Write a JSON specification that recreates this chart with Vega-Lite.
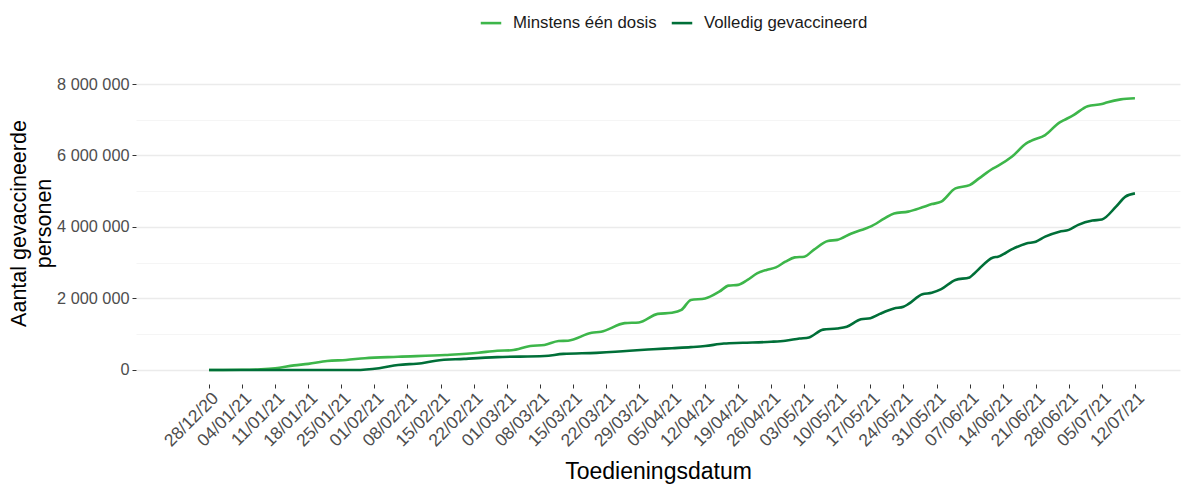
{
  "$schema": "https://vega.github.io/schema/vega-lite/v6.json",
  "width": 1044,
  "height": 304,
  "autosize": {"type": "none"},
  "padding": {"left": 136, "top": 80, "right": 4, "bottom": 101},
  "background": "white",
  "config": {
    "font": "Liberation Sans",
    "view": {"stroke": null},
    "locale": {"number": {"decimal": ",", "thousands": " ", "grouping": [3], "currency": ["€", ""]}}
  },
  "data": {
    "values": [
      {"datum": "2020-12-28", "reeks": "Minstens één dosis", "aantal": 0},
      {"datum": "2021-01-04", "reeks": "Minstens één dosis", "aantal": 5000},
      {"datum": "2021-01-08", "reeks": "Minstens één dosis", "aantal": 20000},
      {"datum": "2021-01-11", "reeks": "Minstens één dosis", "aantal": 50000},
      {"datum": "2021-01-15", "reeks": "Minstens één dosis", "aantal": 130000},
      {"datum": "2021-01-18", "reeks": "Minstens één dosis", "aantal": 170000},
      {"datum": "2021-01-22", "reeks": "Minstens één dosis", "aantal": 250000},
      {"datum": "2021-01-26", "reeks": "Minstens één dosis", "aantal": 280000},
      {"datum": "2021-01-30", "reeks": "Minstens één dosis", "aantal": 330000},
      {"datum": "2021-02-06", "reeks": "Minstens één dosis", "aantal": 370000},
      {"datum": "2021-02-16", "reeks": "Minstens één dosis", "aantal": 420000},
      {"datum": "2021-02-23", "reeks": "Minstens één dosis", "aantal": 480000},
      {"datum": "2021-02-27", "reeks": "Minstens één dosis", "aantal": 540000},
      {"datum": "2021-03-02", "reeks": "Minstens één dosis", "aantal": 550000},
      {"datum": "2021-03-06", "reeks": "Minstens één dosis", "aantal": 670000},
      {"datum": "2021-03-09", "reeks": "Minstens één dosis", "aantal": 700000},
      {"datum": "2021-03-12", "reeks": "Minstens één dosis", "aantal": 810000},
      {"datum": "2021-03-14", "reeks": "Minstens één dosis", "aantal": 820000},
      {"datum": "2021-03-19", "reeks": "Minstens één dosis", "aantal": 1040000},
      {"datum": "2021-03-21", "reeks": "Minstens één dosis", "aantal": 1070000},
      {"datum": "2021-03-26", "reeks": "Minstens één dosis", "aantal": 1310000},
      {"datum": "2021-03-29", "reeks": "Minstens één dosis", "aantal": 1330000},
      {"datum": "2021-04-02", "reeks": "Minstens één dosis", "aantal": 1570000},
      {"datum": "2021-04-05", "reeks": "Minstens één dosis", "aantal": 1600000},
      {"datum": "2021-04-07", "reeks": "Minstens één dosis", "aantal": 1680000},
      {"datum": "2021-04-09", "reeks": "Minstens één dosis", "aantal": 1960000},
      {"datum": "2021-04-12", "reeks": "Minstens één dosis", "aantal": 2000000},
      {"datum": "2021-04-15", "reeks": "Minstens één dosis", "aantal": 2190000},
      {"datum": "2021-04-17", "reeks": "Minstens één dosis", "aantal": 2360000},
      {"datum": "2021-04-19", "reeks": "Minstens één dosis", "aantal": 2380000},
      {"datum": "2021-04-21", "reeks": "Minstens één dosis", "aantal": 2520000},
      {"datum": "2021-04-23", "reeks": "Minstens één dosis", "aantal": 2700000},
      {"datum": "2021-04-25", "reeks": "Minstens één dosis", "aantal": 2800000},
      {"datum": "2021-04-27", "reeks": "Minstens één dosis", "aantal": 2870000},
      {"datum": "2021-04-29", "reeks": "Minstens één dosis", "aantal": 3030000},
      {"datum": "2021-05-01", "reeks": "Minstens één dosis", "aantal": 3150000},
      {"datum": "2021-05-03", "reeks": "Minstens één dosis", "aantal": 3170000},
      {"datum": "2021-05-05", "reeks": "Minstens één dosis", "aantal": 3360000},
      {"datum": "2021-05-08", "reeks": "Minstens één dosis", "aantal": 3610000},
      {"datum": "2021-05-10", "reeks": "Minstens één dosis", "aantal": 3640000},
      {"datum": "2021-05-13", "reeks": "Minstens één dosis", "aantal": 3820000},
      {"datum": "2021-05-16", "reeks": "Minstens één dosis", "aantal": 3960000},
      {"datum": "2021-05-17", "reeks": "Minstens één dosis", "aantal": 4010000},
      {"datum": "2021-05-20", "reeks": "Minstens één dosis", "aantal": 4240000},
      {"datum": "2021-05-22", "reeks": "Minstens één dosis", "aantal": 4380000},
      {"datum": "2021-05-25", "reeks": "Minstens één dosis", "aantal": 4430000},
      {"datum": "2021-05-28", "reeks": "Minstens één dosis", "aantal": 4550000},
      {"datum": "2021-05-30", "reeks": "Minstens één dosis", "aantal": 4640000},
      {"datum": "2021-06-01", "reeks": "Minstens één dosis", "aantal": 4710000},
      {"datum": "2021-06-04", "reeks": "Minstens één dosis", "aantal": 5080000},
      {"datum": "2021-06-07", "reeks": "Minstens één dosis", "aantal": 5170000},
      {"datum": "2021-06-09", "reeks": "Minstens één dosis", "aantal": 5360000},
      {"datum": "2021-06-12", "reeks": "Minstens één dosis", "aantal": 5640000},
      {"datum": "2021-06-13", "reeks": "Minstens één dosis", "aantal": 5710000},
      {"datum": "2021-06-16", "reeks": "Minstens één dosis", "aantal": 5970000},
      {"datum": "2021-06-19", "reeks": "Minstens één dosis", "aantal": 6340000},
      {"datum": "2021-06-20", "reeks": "Minstens één dosis", "aantal": 6410000},
      {"datum": "2021-06-23", "reeks": "Minstens één dosis", "aantal": 6570000},
      {"datum": "2021-06-26", "reeks": "Minstens één dosis", "aantal": 6920000},
      {"datum": "2021-06-27", "reeks": "Minstens één dosis", "aantal": 6990000},
      {"datum": "2021-06-29", "reeks": "Minstens één dosis", "aantal": 7130000},
      {"datum": "2021-07-02", "reeks": "Minstens één dosis", "aantal": 7380000},
      {"datum": "2021-07-05", "reeks": "Minstens één dosis", "aantal": 7440000},
      {"datum": "2021-07-06", "reeks": "Minstens één dosis", "aantal": 7480000},
      {"datum": "2021-07-09", "reeks": "Minstens één dosis", "aantal": 7570000},
      {"datum": "2021-07-12", "reeks": "Minstens één dosis", "aantal": 7600000},
      {"datum": "2020-12-28", "reeks": "Volledig gevaccineerd", "aantal": 0},
      {"datum": "2021-01-28", "reeks": "Volledig gevaccineerd", "aantal": 0},
      {"datum": "2021-02-02", "reeks": "Volledig gevaccineerd", "aantal": 50000},
      {"datum": "2021-02-06", "reeks": "Volledig gevaccineerd", "aantal": 140000},
      {"datum": "2021-02-11", "reeks": "Volledig gevaccineerd", "aantal": 190000},
      {"datum": "2021-02-14", "reeks": "Volledig gevaccineerd", "aantal": 260000},
      {"datum": "2021-02-20", "reeks": "Volledig gevaccineerd", "aantal": 310000},
      {"datum": "2021-02-27", "reeks": "Volledig gevaccineerd", "aantal": 360000},
      {"datum": "2021-03-09", "reeks": "Volledig gevaccineerd", "aantal": 390000},
      {"datum": "2021-03-13", "reeks": "Volledig gevaccineerd", "aantal": 450000},
      {"datum": "2021-03-20", "reeks": "Volledig gevaccineerd", "aantal": 480000},
      {"datum": "2021-03-24", "reeks": "Volledig gevaccineerd", "aantal": 510000},
      {"datum": "2021-03-27", "reeks": "Volledig gevaccineerd", "aantal": 540000},
      {"datum": "2021-04-01", "reeks": "Volledig gevaccineerd", "aantal": 580000},
      {"datum": "2021-04-05", "reeks": "Volledig gevaccineerd", "aantal": 610000},
      {"datum": "2021-04-09", "reeks": "Volledig gevaccineerd", "aantal": 640000},
      {"datum": "2021-04-12", "reeks": "Volledig gevaccineerd", "aantal": 670000},
      {"datum": "2021-04-16", "reeks": "Volledig gevaccineerd", "aantal": 740000},
      {"datum": "2021-04-20", "reeks": "Volledig gevaccineerd", "aantal": 760000},
      {"datum": "2021-04-26", "reeks": "Volledig gevaccineerd", "aantal": 790000},
      {"datum": "2021-04-29", "reeks": "Volledig gevaccineerd", "aantal": 820000},
      {"datum": "2021-05-02", "reeks": "Volledig gevaccineerd", "aantal": 880000},
      {"datum": "2021-05-04", "reeks": "Volledig gevaccineerd", "aantal": 910000},
      {"datum": "2021-05-07", "reeks": "Volledig gevaccineerd", "aantal": 1130000},
      {"datum": "2021-05-10", "reeks": "Volledig gevaccineerd", "aantal": 1160000},
      {"datum": "2021-05-12", "reeks": "Volledig gevaccineerd", "aantal": 1210000},
      {"datum": "2021-05-15", "reeks": "Volledig gevaccineerd", "aantal": 1420000},
      {"datum": "2021-05-17", "reeks": "Volledig gevaccineerd", "aantal": 1450000},
      {"datum": "2021-05-19", "reeks": "Volledig gevaccineerd", "aantal": 1570000},
      {"datum": "2021-05-22", "reeks": "Volledig gevaccineerd", "aantal": 1720000},
      {"datum": "2021-05-24", "reeks": "Volledig gevaccineerd", "aantal": 1770000},
      {"datum": "2021-05-25", "reeks": "Volledig gevaccineerd", "aantal": 1840000},
      {"datum": "2021-05-28", "reeks": "Volledig gevaccineerd", "aantal": 2120000},
      {"datum": "2021-05-30", "reeks": "Volledig gevaccineerd", "aantal": 2160000},
      {"datum": "2021-06-01", "reeks": "Volledig gevaccineerd", "aantal": 2260000},
      {"datum": "2021-06-04", "reeks": "Volledig gevaccineerd", "aantal": 2520000},
      {"datum": "2021-06-07", "reeks": "Volledig gevaccineerd", "aantal": 2590000},
      {"datum": "2021-06-08", "reeks": "Volledig gevaccineerd", "aantal": 2700000},
      {"datum": "2021-06-12", "reeks": "Volledig gevaccineerd", "aantal": 3150000},
      {"datum": "2021-06-13", "reeks": "Volledig gevaccineerd", "aantal": 3170000},
      {"datum": "2021-06-16", "reeks": "Volledig gevaccineerd", "aantal": 3380000},
      {"datum": "2021-06-19", "reeks": "Volledig gevaccineerd", "aantal": 3540000},
      {"datum": "2021-06-21", "reeks": "Volledig gevaccineerd", "aantal": 3590000},
      {"datum": "2021-06-23", "reeks": "Volledig gevaccineerd", "aantal": 3730000},
      {"datum": "2021-06-26", "reeks": "Volledig gevaccineerd", "aantal": 3870000},
      {"datum": "2021-06-28", "reeks": "Volledig gevaccineerd", "aantal": 3920000},
      {"datum": "2021-06-30", "reeks": "Volledig gevaccineerd", "aantal": 4060000},
      {"datum": "2021-07-03", "reeks": "Volledig gevaccineerd", "aantal": 4180000},
      {"datum": "2021-07-05", "reeks": "Volledig gevaccineerd", "aantal": 4210000},
      {"datum": "2021-07-08", "reeks": "Volledig gevaccineerd", "aantal": 4570000},
      {"datum": "2021-07-10", "reeks": "Volledig gevaccineerd", "aantal": 4850000},
      {"datum": "2021-07-12", "reeks": "Volledig gevaccineerd", "aantal": 4940000}
    ]
  },
  "mark": {"type": "line", "strokeWidth": 2.6, "interpolate": "monotone"},
  "encoding": {
    "x": {
      "field": "datum",
      "type": "temporal",
      "scale": {
        "type": "utc",
        "domain": [
          {"year": 2020, "month": 12, "date": 12, "hours": 13, "utc": true},
          {"year": 2021, "month": 7, "date": 21, "hours": 13, "utc": true}
        ]
      },
      "axis": {
        "title": "Toedieningsdatum",
        "titleFontSize": 23,
        "titleFontWeight": "normal",
        "titleColor": "#000000",
        "titlePadding": 11,
        "labelExpr": "utcFormat(datum.value, '%d/%m/%y')",
        "labelAngle": -45,
        "labelAlign": "right",
        "labelBaseline": "top",
        "labelFontSize": 17.5,
        "labelColor": "#4d4d4d",
        "labelPadding": 1,
        "labelOverlap": false,
        "labelFlush": false,
        "labelBound": false,
        "tickSize": 4,
        "tickColor": "#333333",
        "domain": false,
        "grid": false,
        "values": [
          {"year": 2020, "month": 12, "date": 28, "utc": true},
          {"year": 2021, "month": 1, "date": 4, "utc": true},
          {"year": 2021, "month": 1, "date": 11, "utc": true},
          {"year": 2021, "month": 1, "date": 18, "utc": true},
          {"year": 2021, "month": 1, "date": 25, "utc": true},
          {"year": 2021, "month": 2, "date": 1, "utc": true},
          {"year": 2021, "month": 2, "date": 8, "utc": true},
          {"year": 2021, "month": 2, "date": 15, "utc": true},
          {"year": 2021, "month": 2, "date": 22, "utc": true},
          {"year": 2021, "month": 3, "date": 1, "utc": true},
          {"year": 2021, "month": 3, "date": 8, "utc": true},
          {"year": 2021, "month": 3, "date": 15, "utc": true},
          {"year": 2021, "month": 3, "date": 22, "utc": true},
          {"year": 2021, "month": 3, "date": 29, "utc": true},
          {"year": 2021, "month": 4, "date": 5, "utc": true},
          {"year": 2021, "month": 4, "date": 12, "utc": true},
          {"year": 2021, "month": 4, "date": 19, "utc": true},
          {"year": 2021, "month": 4, "date": 26, "utc": true},
          {"year": 2021, "month": 5, "date": 3, "utc": true},
          {"year": 2021, "month": 5, "date": 10, "utc": true},
          {"year": 2021, "month": 5, "date": 17, "utc": true},
          {"year": 2021, "month": 5, "date": 24, "utc": true},
          {"year": 2021, "month": 5, "date": 31, "utc": true},
          {"year": 2021, "month": 6, "date": 7, "utc": true},
          {"year": 2021, "month": 6, "date": 14, "utc": true},
          {"year": 2021, "month": 6, "date": 21, "utc": true},
          {"year": 2021, "month": 6, "date": 28, "utc": true},
          {"year": 2021, "month": 7, "date": 5, "utc": true},
          {"year": 2021, "month": 7, "date": 12, "utc": true}
        ]
      }
    },
    "y": {
      "field": "aantal",
      "type": "quantitative",
      "scale": {"domain": [-392000, 8112000], "nice": false, "zero": false},
      "axis": {
        "title": ["Aantal gevaccineerde", "personen"],
        "titleFontSize": 21.5,
        "titleFontWeight": "normal",
        "titleColor": "#000000",
        "titleLineHeight": 25,
        "titlePadding": 1,
        "titleY": 143,
        "values": [0, 1000000, 2000000, 3000000, 4000000, 5000000, 6000000, 7000000, 8000000],
        "format": ",d",
        "labelExpr": "datum.value % 2000000 === 0 ? datum.label : ''",
        "labelFontSize": 16.3,
        "labelColor": "#4d4d4d",
        "labelPadding": 3,
        "tickSize": 4,
        "tickColor": "#333333",
        "tickOpacity": {"condition": {"test": "datum.value % 2000000 === 0", "value": 1}, "value": 0},
        "domain": false,
        "grid": true,
        "gridColor": {"condition": {"test": "datum.value % 2000000 === 0", "value": "#ebebeb"}, "value": "#f3f3f3"},
        "gridWidth": {"condition": {"test": "datum.value % 2000000 === 0", "value": 1.3}, "value": 0.8}
      }
    },
    "color": {
      "field": "reeks",
      "type": "nominal",
      "scale": {"domain": ["Minstens één dosis", "Volledig gevaccineerd"], "range": ["#3db64a", "#006f38"]},
      "legend": {
        "title": null,
        "orient": "none",
        "direction": "horizontal",
        "legendX": 343,
        "legendY": -69,
        "symbolType": "stroke",
        "symbolSize": 420,
        "symbolStrokeWidth": 2.6,
        "labelFontSize": 16.8,
        "labelColor": "#1a1a1a",
        "labelOffset": 10,
        "columnPadding": 9,
        "labelLimit": 300
      }
    }
  }
}
